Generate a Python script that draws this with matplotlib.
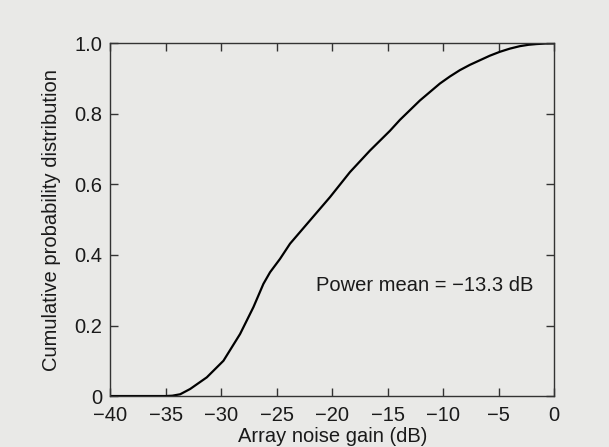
import matplotlib.pyplot as plt


# CDF of array noise gain, read as (gain dB, probability) pairs
gain_db = [
    -40.0, -37.0, -35.0, -34.4, -33.7, -32.8, -31.3, -29.8, -28.3,
    -27.1, -26.2, -25.6, -24.7, -23.8, -22.0, -20.2, -18.4, -16.6,
    -14.8, -13.9, -12.1, -10.3, -9.4, -8.5, -7.6, -6.7, -5.8, -4.9,
    -4.0, -3.1, -2.3, -1.6, -0.8, 0.0,
]
cum_prob = [
    0.0, 0.0, 0.0, 0.001, 0.005, 0.020, 0.053, 0.100, 0.176,
    0.252, 0.318, 0.351, 0.389, 0.432, 0.498, 0.564, 0.635, 0.696,
    0.752, 0.783, 0.838, 0.886, 0.906, 0.924, 0.939, 0.952, 0.965, 0.976,
    0.985, 0.992, 0.996, 0.998, 0.9995, 1.0,
]

x_ticks = [-40, -35, -30, -25, -20, -15, -10, -5, 0]
x_tick_labels = ["\u221240", "\u221235", "\u221230", "\u221225", "\u221220",
                 "\u221215", "\u221210", "\u22125", "0"]
y_ticks = [0, 0.2, 0.4, 0.6, 0.8, 1.0]
y_tick_labels = ["0", "0.2", "0.4", "0.6", "0.8", "1.0"]

note_text = "Power mean = \u221213.3 dB"
note_pos = (-21.5, 0.313)

BG = "#e9e9e7"
FS = 14.5

plt.rcParams["font.family"] = ["Liberation Sans", "DejaVu Sans"]

fig = plt.figure(figsize=(6.09, 4.47), dpi=100, facecolor=BG)
ax = fig.add_axes([0.181, 0.114, 0.729, 0.789], facecolor=BG)

ax.plot(gain_db, cum_prob, color="black", linewidth=1.6,
        solid_joinstyle="round", solid_capstyle="round")

ax.set_xlim(-40, 0)
ax.set_ylim(0, 1.0)
ax.set_xticks(x_ticks)
ax.set_xticklabels(x_tick_labels)
ax.set_yticks(y_ticks)
ax.set_yticklabels(y_tick_labels)

ax.tick_params(direction="in", length=5.5, width=1.0, color="#333333",
               top=True, right=True, labelsize=FS, labelcolor="#1a1a1a")
ax.tick_params(axis="x", pad=7.5)
ax.tick_params(axis="y", pad=6)

for spine in ax.spines.values():
    spine.set_color("#333333")
    spine.set_linewidth(1.0)

ax.set_xlabel("Array noise gain (dB)", fontsize=FS, color="#1a1a1a",
              labelpad=1)
ax.set_ylabel("Cumulative probability distribution", fontsize=FS,
              color="#1a1a1a", labelpad=9)

ax.text(note_pos[0], note_pos[1], note_text, fontsize=FS, color="#1a1a1a",
        ha="left", va="center")

fig.savefig("out.png", dpi=100, facecolor=BG)
